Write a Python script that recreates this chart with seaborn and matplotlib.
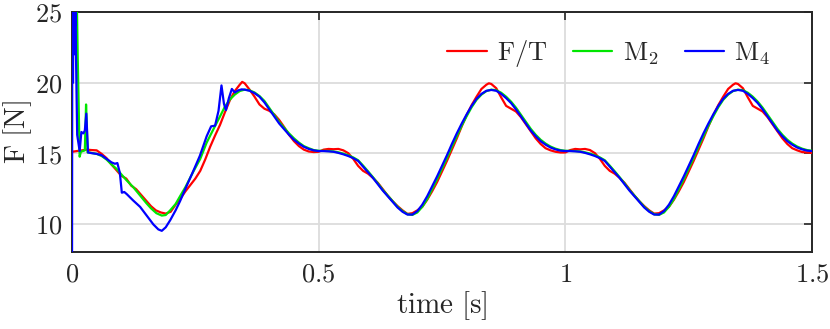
import numpy as np
import pandas as pd
import matplotlib
matplotlib.use("Agg")
import matplotlib.pyplot as plt
import seaborn as sns

# ---------------- data ----------------
series_names = ["F/T", "M2", "M4"]
legend_labels = [r"$\mathrm{F/T}$", r"$\mathrm{M}_2$", r"$\mathrm{M}_4$"]
series_colors = ["#ff0000", "#00e600", "#0000ff"]

# F/T sensor (red)
t_ft = [0.0, 0.01, 0.02, 0.03, 0.04, 0.05, 0.06, 0.07, 0.08, 0.09,
        0.10, 0.11, 0.12, 0.13, 0.14, 0.15, 0.16, 0.17, 0.18, 0.19,
        0.20, 0.21, 0.22, 0.23, 0.24, 0.25, 0.26, 0.27, 0.28, 0.29,
        0.30, 0.31, 0.32, 0.33, 0.34, 0.345, 0.35, 0.36, 0.37, 0.38, 0.39,
        0.40, 0.41, 0.42, 0.43, 0.44, 0.45, 0.46, 0.47, 0.48, 0.49,
        0.50, 0.51, 0.52, 0.53, 0.54, 0.55, 0.56, 0.57, 0.58, 0.59,
        0.60, 0.61, 0.62, 0.63, 0.64, 0.65, 0.66, 0.67, 0.68, 0.69,
        0.70, 0.71, 0.72, 0.73, 0.74, 0.75, 0.76, 0.77, 0.78, 0.79,
        0.80, 0.81, 0.82, 0.83, 0.84, 0.845, 0.85, 0.86, 0.87, 0.88, 0.89,
        0.90, 0.91, 0.92, 0.93, 0.94, 0.95, 0.96, 0.97, 0.98, 0.99,
        1.00, 1.01, 1.02, 1.03, 1.04, 1.05, 1.06, 1.07, 1.08, 1.09,
        1.10, 1.11, 1.12, 1.13, 1.14, 1.15, 1.16, 1.17, 1.18, 1.19,
        1.20, 1.21, 1.22, 1.23, 1.24, 1.25, 1.26, 1.27, 1.28, 1.29,
        1.30, 1.31, 1.32, 1.33, 1.34, 1.345, 1.35, 1.36, 1.37, 1.38, 1.39,
        1.40, 1.41, 1.42, 1.43, 1.44, 1.45, 1.46, 1.47, 1.48, 1.49, 1.50]
f_ft = [15.1, 15.15, 15.2, 15.25, 15.22, 15.2, 14.95, 14.65, 14.2, 13.8,
        13.4, 13.2, 12.7, 12.45, 12.05, 11.65, 11.25, 10.95, 10.8, 10.72,
        10.85, 11.35, 11.8, 12.3, 12.75, 13.2, 13.75, 14.55, 15.45, 16.25,
        17.0, 17.9, 18.75, 19.4, 19.85, 20.05, 19.95, 19.5, 19.0, 18.45, 18.15,
        18.0, 17.75, 17.35, 16.85, 16.3, 15.85, 15.5, 15.25, 15.12, 15.08,
        15.1, 15.25, 15.3, 15.28, 15.3, 15.2, 15.0, 14.6, 14.1, 13.75,
        13.55, 13.25, 12.9, 12.45, 12.0, 11.6, 11.25, 10.95, 10.7, 10.75,
        10.95, 11.2, 11.7, 12.3, 12.95, 13.7, 14.45, 15.25, 16.05, 16.9,
        17.7, 18.4, 19.0, 19.55, 19.85, 19.95, 19.9, 19.6, 18.95, 18.35, 18.15,
        17.95, 17.55, 17.05, 16.55, 16.05, 15.65, 15.35, 15.2, 15.1, 15.05,
        15.05, 15.22, 15.3, 15.27, 15.3, 15.22, 15.0, 14.6, 14.1, 13.75,
        13.55, 13.25, 12.9, 12.45, 12.0, 11.6, 11.25, 10.95, 10.72, 10.75,
        10.95, 11.2, 11.7, 12.3, 12.95, 13.7, 14.45, 15.25, 16.05, 16.9,
        17.7, 18.4, 19.0, 19.55, 19.85, 19.95, 19.9, 19.6, 18.95, 18.35, 18.15,
        17.95, 17.55, 17.05, 16.55, 16.05, 15.65, 15.35, 15.2, 15.08, 15.05, 15.02]

# common regular time grid after the start-up transient
t_regular = [round(0.36 + 0.01 * i, 2) for i in range(115)]

# model M2 (green)
t_m2 = [0.0, 0.004, 0.008, 0.0115, 0.0155, 0.018, 0.022, 0.026, 0.0285,
        0.0295, 0.0315, 0.035, 0.05, 0.06, 0.07, 0.08, 0.09, 0.10, 0.11,
        0.124, 0.138, 0.151, 0.16, 0.171, 0.182, 0.19, 0.199, 0.21, 0.219,
        0.23, 0.246, 0.26, 0.273, 0.286, 0.30, 0.31, 0.32, 0.33, 0.34,
        0.35] + t_regular
f_m2 = [40.0, 35.0, 30.0, 22.0, 14.75, 15.1, 15.15, 15.2, 18.45,
        17.5, 15.05, 15.05, 14.95, 14.8, 14.55, 14.2, 13.9, 13.5, 13.1,
        12.6, 12.0, 11.45, 11.1, 10.75, 10.58, 10.62, 10.95, 11.4, 11.95,
        12.6, 13.7, 14.6, 15.75, 16.65, 17.6, 18.3, 18.8, 19.15, 19.4,
        19.5] + \
       [19.45, 19.3, 19.05, 18.7, 18.2, 17.7, 17.2, 16.8, 16.4, 16.05,
        15.75, 15.5, 15.35, 15.22, 15.17, 15.16, 15.15, 15.12, 15.06, 14.97,
        14.85, 14.7, 14.5, 14.12, 13.72, 13.3, 12.86, 12.4, 12.0, 11.6,
        11.2, 10.9, 10.68, 10.63, 10.8, 11.2, 11.75, 12.45, 13.15, 13.9,
        14.65, 15.45, 16.2, 16.95, 17.62, 18.25, 18.78, 19.15, 19.4, 19.5,
        19.46, 19.28, 19.0, 18.65, 18.22, 17.72, 17.22, 16.72, 16.3, 15.95,
        15.68, 15.47, 15.32, 15.22, 15.17, 15.16, 15.15, 15.12, 15.06, 14.97,
        14.85, 14.7, 14.5, 14.12, 13.72, 13.3, 12.86, 12.4, 12.0, 11.6,
        11.2, 10.9, 10.68, 10.63, 10.8, 11.2, 11.75, 12.45, 13.15, 13.9,
        14.65, 15.45, 16.2, 16.95, 17.62, 18.25, 18.78, 19.15, 19.4, 19.5,
        19.46, 19.28, 19.0, 18.65, 18.22, 17.72, 17.22, 16.72, 16.3, 15.95,
        15.68, 15.47, 15.32, 15.22, 15.17]

# model M4 (blue)
t_m4 = [0.0, 0.001, 0.002, 0.003, 0.004, 0.005, 0.006, 0.007, 0.008,
        0.0105, 0.0155, 0.019, 0.023, 0.026, 0.029, 0.0325, 0.04, 0.05,
        0.06, 0.07, 0.08, 0.087, 0.092, 0.097, 0.101, 0.106, 0.111, 0.124,
        0.138, 0.151, 0.165, 0.175, 0.182, 0.19, 0.199, 0.21, 0.219, 0.232,
        0.246, 0.259, 0.273, 0.282, 0.290, 0.297, 0.303, 0.308, 0.312,
        0.318, 0.324, 0.330, 0.337, 0.344, 0.35] + t_regular
f_m4 = [5.0, 40.0, 20.0, 32.0, 22.0, 30.0, 24.0, 28.0, 22.1,
        16.3, 15.15, 16.5, 16.4, 16.6, 17.8, 15.05, 15.0, 14.95,
        14.85, 14.6, 14.35, 14.25, 14.3, 13.6, 12.2, 12.25, 12.1, 11.65,
        11.2, 10.6, 9.95, 9.6, 9.5, 9.75, 10.25, 10.95, 11.6, 12.65,
        13.75, 14.8, 16.2, 16.9, 16.95, 18.0, 19.8, 18.5, 18.05,
        18.9, 19.55, 19.3, 19.45, 19.52, 19.5] + \
       [19.42, 19.25, 19.0, 18.6, 18.1, 17.6, 17.1, 16.7, 16.3, 15.95,
        15.68, 15.45, 15.3, 15.2, 15.15, 15.15, 15.13, 15.1, 15.02, 14.92,
        14.8, 14.65, 14.45, 14.05, 13.65, 13.25, 12.8, 12.35, 11.95, 11.55,
        11.15, 10.85, 10.65, 10.65, 10.9, 11.35, 11.95, 12.65, 13.35, 14.1,
        14.85, 15.65, 16.4, 17.1, 17.75, 18.35, 18.85, 19.2, 19.42, 19.48,
        19.42, 19.2, 18.9, 18.55, 18.1, 17.6, 17.1, 16.6, 16.2, 15.85,
        15.6, 15.4, 15.27, 15.18, 15.15, 15.15, 15.13, 15.1, 15.02, 14.92,
        14.8, 14.65, 14.45, 14.05, 13.65, 13.25, 12.8, 12.35, 11.95, 11.55,
        11.15, 10.85, 10.65, 10.65, 10.9, 11.35, 11.95, 12.65, 13.35, 14.1,
        14.85, 15.65, 16.4, 17.1, 17.75, 18.35, 18.85, 19.2, 19.42, 19.48,
        19.42, 19.2, 18.9, 18.55, 18.1, 17.6, 17.1, 16.6, 16.2, 15.85,
        15.6, 15.4, 15.27, 15.18, 15.15]

x_ticks = [0, 0.5, 1, 1.5]
x_ticklabels = [r"$0$", r"$0.5$", r"$1$", r"$1.5$"]
y_ticks = [10, 15, 20, 25]
y_ticklabels = [r"$10$", r"$15$", r"$20$", r"$25$"]

# ---------------- build table ----------------
df = pd.concat([
    pd.DataFrame({"t": t_ft, "F": f_ft, "series": "F/T"}),
    pd.DataFrame({"t": t_m2, "F": f_m2, "series": "M2"}),
    pd.DataFrame({"t": t_m4, "F": f_m4, "series": "M4"}),
], ignore_index=True)

# ---------------- plot ----------------
sns.set_theme(style="white")
plt.rcParams["mathtext.fontset"] = "cm"
plt.rcParams["font.family"] = ["DejaVu Serif"]

fig = plt.figure(figsize=(8.3, 3.29), dpi=100)
ax = fig.add_axes([72 / 830, 1 - 252 / 329, 740 / 830, 240 / 329])

sns.lineplot(data=df, x="t", y="F", hue="series", hue_order=series_names,
             palette=series_colors, estimator=None, sort=False,
             linewidth=1.6, ax=ax)
for ln in ax.lines:
    ln.set_zorder(3)

ax.set_xlim(0, 1.5)
ax.set_ylim(8, 25)
ax.set_xticks(x_ticks)
ax.set_xticklabels(x_ticklabels)
ax.set_yticks(y_ticks)
ax.set_yticklabels(y_ticklabels)
ax.tick_params(direction="in", length=6, width=1.2, color="#262626",
               labelsize=19, top=True, right=True, pad=7,
               labelcolor="#262626")
ax.grid(True, color="#dcdcdc", linewidth=1.3)
ax.set_axisbelow(True)
for s in ax.spines.values():
    s.set_color("#262626")
    s.set_linewidth(1.4)

ax.set_xlabel(r"$\mathrm{time\ [s]}$", fontsize=21, color="#262626", labelpad=2)
ax.set_ylabel(r"$\mathrm{F\ [N]}$", fontsize=21, color="#262626")
ax.yaxis.set_label_coords(-0.051, 0.5)

handles, _ = ax.get_legend_handles_labels()
ax.legend(handles[:3], legend_labels, loc="upper right", ncol=3,
          frameon=False, fontsize=19, handlelength=1.48, handletextpad=0.38,
          columnspacing=1.0, borderaxespad=0.0, borderpad=0.4,
          bbox_to_anchor=(0.957, 0.935), labelcolor="#262626")

fig.savefig("out.png", dpi=100)
